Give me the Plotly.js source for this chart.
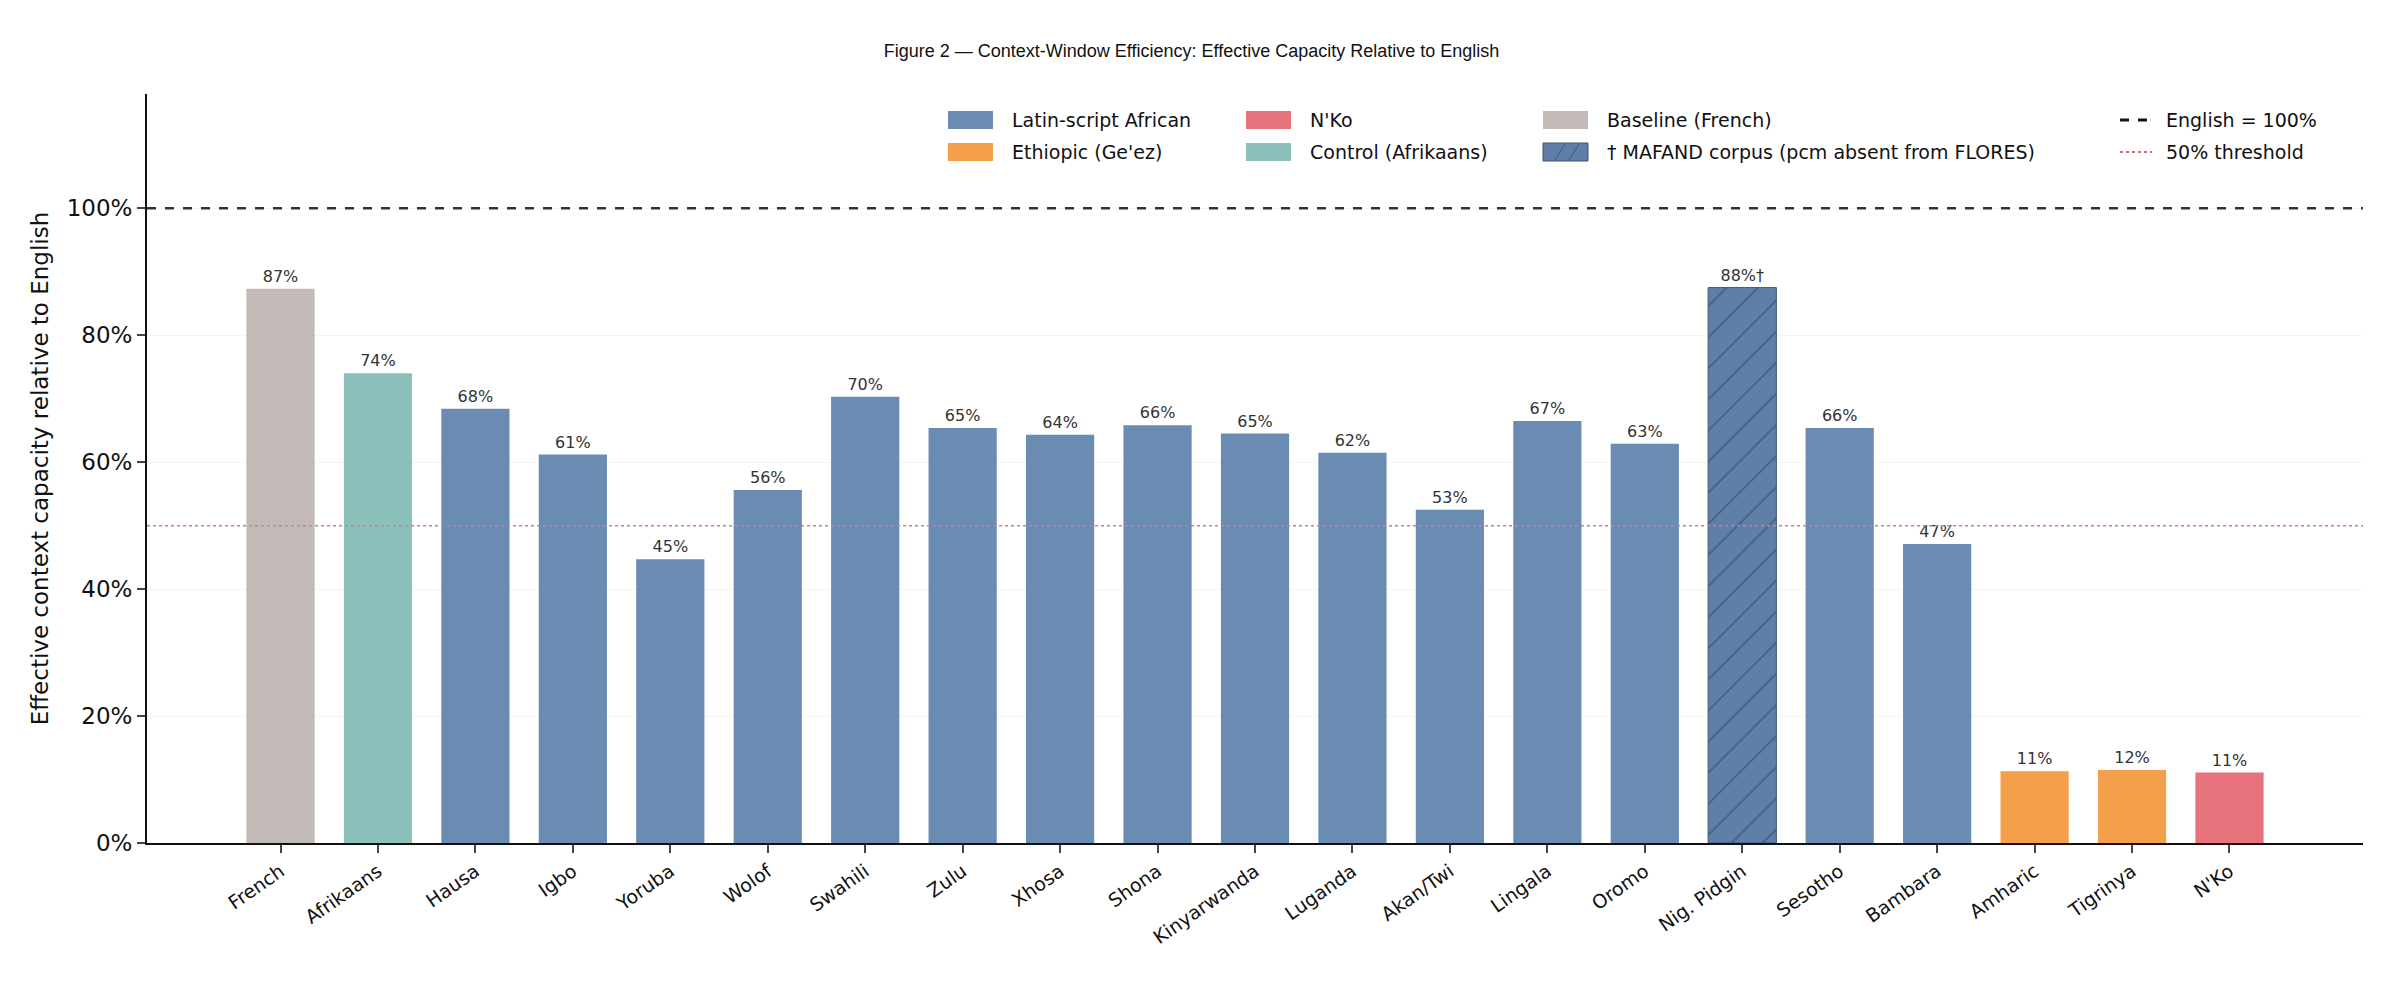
<!DOCTYPE html>
<html><head><meta charset="utf-8">
<script src="https://cdn.plot.ly/plotly-3.0.1.min.js"></script>
<style>body{margin:0}#c{width:2383px;height:984px}</style></head>
<body><div id="c"></div>
<script>
const languages = ["French","Afrikaans","Hausa","Igbo","Yoruba","Wolof","Swahili","Zulu","Xhosa","Shona","Kinyarwanda","Luganda","Akan/Twi","Lingala","Oromo","Nig. Pidgin","Sesotho","Bambara","Amharic","Tigrinya","N'Ko"];
const capacity = [87.3,74.0,68.4,61.2,44.7,55.6,70.3,65.4,64.3,65.8,64.5,61.5,52.5,66.5,62.9,87.5,65.4,47.1,11.3,11.5,11.1];
const groups = ["base","ctrl","latin","latin","latin","latin","latin","latin","latin","latin","latin","latin","latin","latin","latin","mafand","latin","latin","eth","eth","nko"];
const valueLabels = ["87%","74%","68%","61%","45%","56%","70%","65%","64%","66%","65%","62%","53%","67%","63%","88%†","66%","47%","11%","12%","11%"];
const groupNames = {latin:"Latin-script African",eth:"Ethiopic (Ge'ez)",nko:"N'Ko",ctrl:"Control (Afrikaans)",base:"Baseline (French)",mafand:"† MAFAND corpus (pcm absent from FLORES)"};
const groupColors = {latin:"#6a8cb3",eth:"#f4a04a",nko:"#e7727b",ctrl:"#8cc0bb",base:"#c2bab6",mafand:"#5f7fa8"};
const legendOrder = ["latin","nko","base","eng","eth","ctrl","mafand","thr"];
const lineNames = {eng:"English = 100%",thr:"50% threshold"};

const traces = [];
["base","ctrl","latin","mafand","eth","nko"].forEach(g=>{
  const idx = groups.map((v,i)=>v===g?i:-1).filter(i=>i>=0);
  traces.push({
    type:"bar", name:groupNames[g],
    x: idx.map(i=>languages[i]), y: idx.map(i=>capacity[i]),
    text: idx.map(i=>valueLabels[i]), textposition:"outside", cliponaxis:false,
    textfont:{size:16,color:"#333",family:"DejaVu Sans"},
    width:0.7,
    marker:{color:groupColors[g], line:{width:g==="mafand"?1:0,color:"#3d5675"},
      pattern: g==="mafand"?{shape:"/",bgcolor:groupColors[g],fgcolor:"#3d5675",size:22,solidity:0.06}:{shape:""}}
  });
});

// manual legend (layout positions in pixels -> paper coords)
const L=147,W=2216,B=843,H=749;
const px=v=>(v-L)/W, py=v=>(B-v)/H;
const colX=[948,1246,1543,2120], rowY=[120,152];
const shapes=[
  {type:"line",xref:"paper",x0:0,x1:1,yref:"y",y0:100,y1:100,line:{color:"#333",dash:"dash",width:2.5}},
  {type:"line",xref:"paper",x0:0,x1:1,yref:"y",y0:50,y1:50,line:{color:"#d08080",dash:"dot",width:1.5}}
];
const annotations=[];
legendOrder.forEach((g,k)=>{
  const cx=colX[k%4], cy=rowY[Math.floor(k/4)];
  if(g==="eng"||g==="thr"){
    shapes.push({type:"line",xref:"paper",yref:"paper",x0:px(cx),x1:px(cx+32),y0:py(cy),y1:py(cy),
      line:g==="eng"?{color:"#111",dash:"dash",width:3}:{color:"#d07070",dash:"dot",width:2}});
  } else {
    shapes.push({type:"rect",xref:"paper",yref:"paper",x0:px(cx),x1:px(cx+45),y0:py(cy+9),y1:py(cy-9),
      fillcolor:groupColors[g],line:{width:g==="mafand"?1:0,color:"#3d5675"}});
    if(g==="mafand"){
      shapes.push({type:"line",xref:"paper",yref:"paper",x0:px(cx+12),x1:px(cx+22),y0:py(cy+8),y1:py(cy-8),line:{color:"#3d5675",width:1}});
      shapes.push({type:"line",xref:"paper",yref:"paper",x0:px(cx+26),x1:px(cx+36),y0:py(cy+8),y1:py(cy-8),line:{color:"#3d5675",width:1}});
    }
  }
  annotations.push({xref:"paper",yref:"paper",x:px(cx+(g==="eng"||g==="thr"?44:62)),y:py(cy),xanchor:"left",yanchor:"middle",
    showarrow:false,text:groupNames[g]||lineNames[g],font:{size:19,color:"#111"}});
});

const layout = {
  width:2383,height:984,
  paper_bgcolor:"white",plot_bgcolor:"white",
  margin:{l:147,r:20,t:94,b:141},
  title:{text:"Figure 2 — Context-Window Efficiency: Effective Capacity Relative to English",x:0.5,y:0.955,font:{size:18,family:"Liberation Sans, Arial",color:"#111"}},
  barmode:"overlay",
  font:{family:"DejaVu Sans",color:"#111"},
  xaxis:{type:"category",categoryorder:"array",categoryarray:languages,range:[-1.37,21.37],
    tickangle:-35,tickfont:{size:19},ticks:"outside",ticklen:8,tickwidth:2,showline:true,linecolor:"#111",linewidth:2,showgrid:false},
  yaxis:{range:[0,118],tickvals:[0,20,40,60,80,100],ticktext:["0%","20%","40%","60%","80%","100%"],
    tickfont:{size:23},ticks:"outside",ticklen:8,tickwidth:2,showline:true,linecolor:"#111",linewidth:2,
    showgrid:true,gridcolor:"#f4f4f4",zeroline:false,
    title:{text:"Effective context capacity relative to English",font:{size:23},standoff:12}},
  shapes:shapes, annotations:annotations,
  showlegend:false
};
Plotly.newPlot("c",traces,layout,{displayModeBar:false,staticPlot:true});
</script></body></html>
